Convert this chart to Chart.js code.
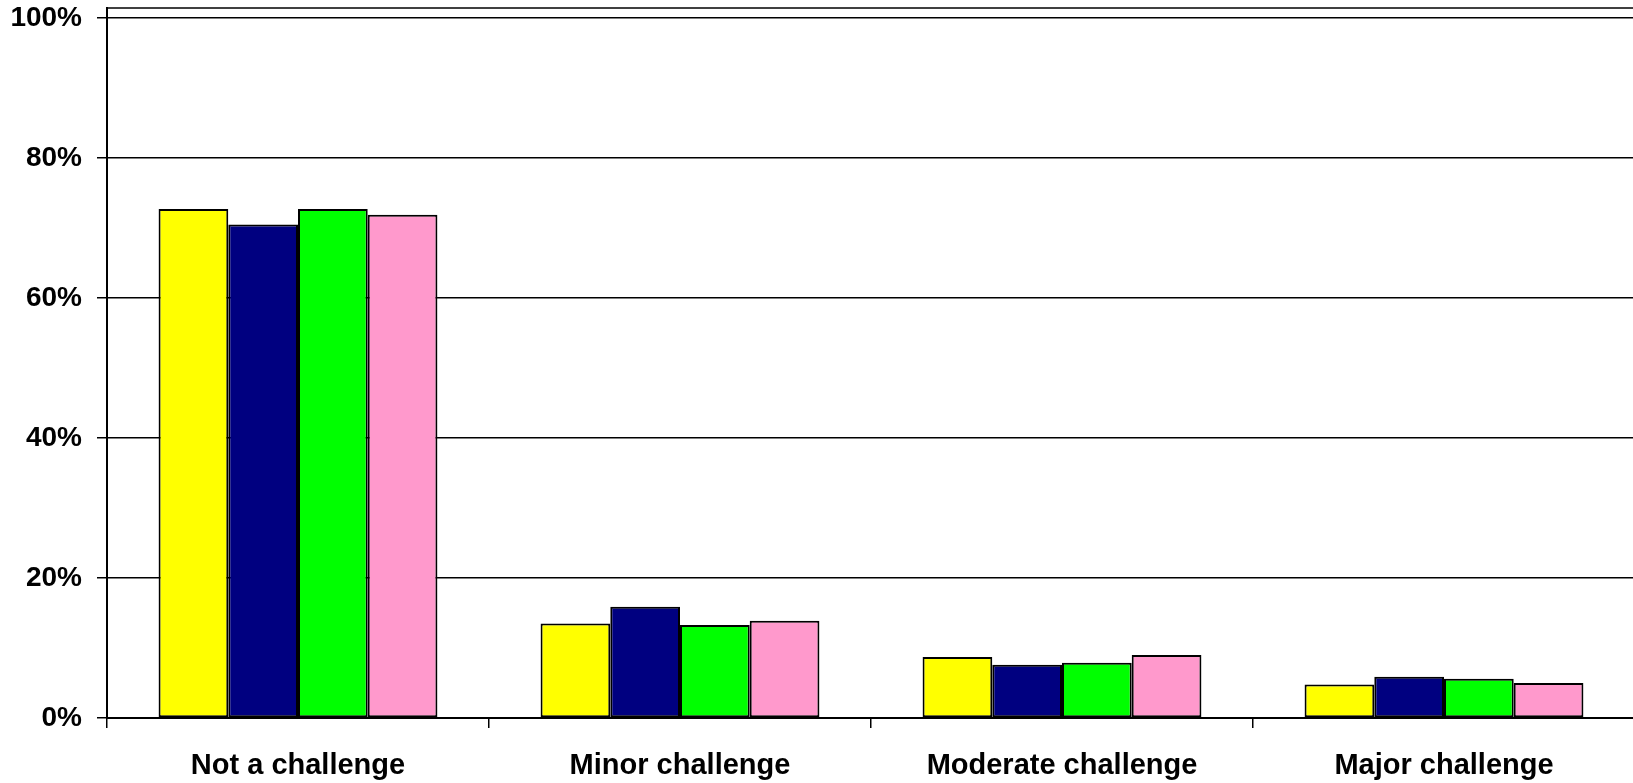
<!DOCTYPE html>
<html>
<head>
<meta charset="utf-8">
<script src="https://cdn.jsdelivr.net/npm/chart.js@4/dist/chart.umd.min.js"></script>
<style>
    html, body { margin: 0; padding: 0; overflow: hidden; background: #fff; }
    #wrap { position: relative; width: 1635px; height: 783px; }
</style>
</head>
<body>
<div id="wrap"><canvas id="challenge-chart"></canvas></div>
<script>
// Datos del gráfico
const categories = ['Not a challenge', 'Minor challenge', 'Moderate challenge', 'Major challenge'];
const series1 = [72.7, 13.5, 8.7, 4.8];
const series2 = [70.5, 15.9, 7.6, 5.9];
const series3 = [72.7, 13.3, 7.9, 5.6];
const series4 = [71.9, 13.9, 9.0, 5.0];
const yTicks = [0, 20, 40, 60, 80, 100];

// Línea superior del área del gráfico
const plotBorder = {
    id: 'plotBorder',
    afterDraw(chart) {
        const { ctx, chartArea } = chart;
        ctx.save();
        ctx.strokeStyle = '#000';
        ctx.lineWidth = 1.5;
        ctx.beginPath();
        ctx.moveTo(chartArea.left, chartArea.top);
        ctx.lineTo(chartArea.right, chartArea.top);
        ctx.stroke();
        ctx.restore();
    }
};

const bar = (label, data, color) => ({
    label: label,
    data: data,
    backgroundColor: color,
    borderColor: '#000',
    borderWidth: 2,
    borderSkipped: false,
    barPercentage: 1.0,
    categoryPercentage: 0.73
});

const noPad = scale => {
    scale.paddingTop = 0;
    scale.paddingBottom = 0;
    scale.paddingLeft = 0;
    scale.paddingRight = 0;
};

const chart = new Chart(document.getElementById('challenge-chart'), {
    type: 'bar',
    data: {
        labels: categories,
        datasets: [
            bar('Series 1', series1, '#FFFF00'),
            bar('Series 2', series2, '#000080'),
            bar('Series 3', series3, '#00FF00'),
            bar('Series 4', series4, '#FF99CC')
        ]
    },
    plugins: [plotBorder],
    options: {
        responsive: true,
        maintainAspectRatio: false,
        animation: false,
        layout: { padding: { top: 8, left: 0, right: 0, bottom: 0 } },
        plugins: {
            legend: { display: false },
            tooltip: { enabled: false }
        },
        scales: {
            x: {
                afterFit: scale => { scale.height = 65; noPad(scale); },
                grid: {
                    offset: true,
                    drawOnChartArea: false,
                    color: '#000',
                    lineWidth: 1.5,
                    tickLength: 10
                },
                border: { color: '#000', width: 2 },
                ticks: {
                    color: '#000',
                    padding: 21,
                    font: { family: 'Arial, "Liberation Sans", sans-serif', size: 29, weight: 'bold' }
                }
            },
            y: {
                min: 0,
                max: 101.43,
                afterFit: scale => { scale.width = 107; noPad(scale); },
                afterBuildTicks: scale => {
                    scale.ticks = yTicks.map(v => ({ value: v }));
                },
                grid: {
                    color: '#000',
                    lineWidth: 1.5,
                    tickLength: 10
                },
                border: { color: '#000', width: 2 },
                ticks: {
                    color: '#000',
                    padding: 15,
                    callback: v => v + '%',
                    font: { family: 'Arial, "Liberation Sans", sans-serif', size: 28, weight: 'bold' }
                }
            }
        }
    }
});
</script>
</body>
</html>
